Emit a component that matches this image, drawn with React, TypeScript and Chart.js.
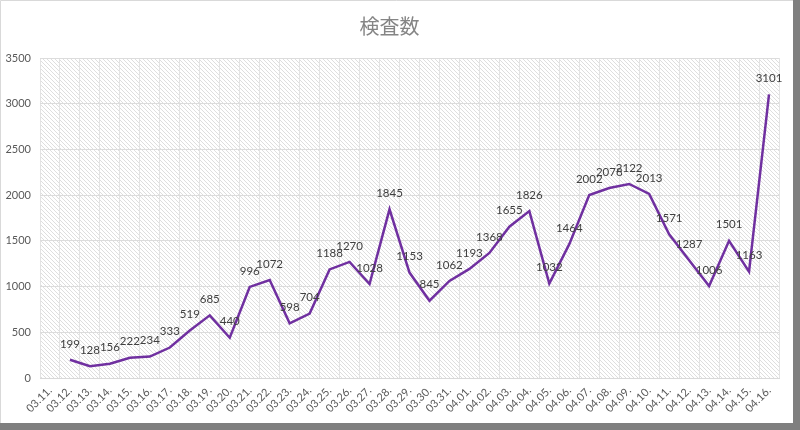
import { useEffect, useRef } from "react";
import { Chart, registerables } from "chart.js";

Chart.register(...registerables);

const title = "検査数";

const categories = [
  "03.11.", "03.12.", "03.13.", "03.14.", "03.15.", "03.16.", "03.17.", "03.18.", "03.19.", "03.20.",
  "03.21.", "03.22.", "03.23.", "03.24.", "03.25.", "03.26.", "03.27.", "03.28.", "03.29.", "03.30.",
  "03.31.", "04.01.", "04.02.", "04.03.", "04.04.", "04.05.", "04.06.", "04.07.", "04.08.", "04.09.",
  "04.10.", "04.11.", "04.12.", "04.13.", "04.14.", "04.15.", "04.16.",
];

const tests: (number | null)[] = [
  null, 199, 128, 156, 222, 234, 333, 519, 685, 440,
  996, 1072, 598, 704, 1188, 1270, 1028, 1845, 1153, 845,
  1062, 1193, 1368, 1655, 1826, 1032, 1464, 2002, 2078, 2122,
  2013, 1571, 1287, 1006, 1501, 1163, 3101,
];

const yMin = 0;
const yMax = 3500;
const yStep = 500;

const NUM_FONT = "Lato, 'Open Sans', sans-serif";

function makeHatch(): CanvasPattern | string {
  const c = document.createElement("canvas");
  c.width = 4;
  c.height = 4;
  const g = c.getContext("2d");
  if (!g) return "#f4f4f4";
  g.fillStyle = "#ffffff";
  g.fillRect(0, 0, 4, 4);
  g.fillStyle = "rgba(200,200,200,0.6)";
  for (let i = 0; i < 4; i++) {
    g.fillRect(i, i, 1, 1);
  }
  const p = g.createPattern(c, "repeat");
  return p || "#f4f4f4";
}

const hatchPlugin = {
  id: "hatchBg",
  beforeDraw(chart: any) {
    const { ctx, chartArea, width, height } = chart;
    ctx.save();
    ctx.fillStyle = "#ffffff";
    ctx.fillRect(0, 0, width, height);
    ctx.strokeStyle = "#d9d9d9";
    ctx.lineWidth = 1;
    ctx.beginPath();
    ctx.moveTo(0.5, height);
    ctx.lineTo(0.5, 0.5);
    ctx.lineTo(width, 0.5);
    ctx.stroke();
    if (chartArea) {
      ctx.fillStyle = makeHatch();
      ctx.fillRect(chartArea.left, chartArea.top, chartArea.right - chartArea.left, chartArea.bottom - chartArea.top);
    }
    ctx.restore();
  },
};

const labelPlugin = {
  id: "pointLabels",
  afterDatasetsDraw(chart: any) {
    const { ctx } = chart;
    const meta = chart.getDatasetMeta(0);
    ctx.save();
    ctx.font = `11.5px ${NUM_FONT}`;
    ctx.fillStyle = "#404040";
    ctx.textAlign = "center";
    ctx.textBaseline = "middle";
    meta.data.forEach((pt: any, i: number) => {
      const v = tests[i];
      if (v === null || v === undefined) return;
      ctx.fillText(String(v), pt.x, pt.y - 16);
    });
    ctx.restore();
  },
};

export default function App() {
  const ref = useRef<HTMLCanvasElement | null>(null);

  useEffect(() => {
    if (!ref.current) return;
    const chart = new Chart(ref.current, {
      type: "line",
      data: {
        labels: categories,
        datasets: [
          {
            data: tests,
            borderColor: "#7030A0",
            borderWidth: 2.5,
            pointRadius: 0,
            pointHoverRadius: 0,
            tension: 0,
            fill: false,
            spanGaps: false,
          },
        ],
      },
      options: {
        animation: false,
        responsive: false,
        maintainAspectRatio: false,
        layout: { padding: { left: 0, right: 14, top: 14, bottom: 0 } },
        plugins: {
          legend: { display: false },
          tooltip: { enabled: false },
          title: {
            display: true,
            text: title,
            color: "#858585",
            font: { family: "'Noto Sans CJK JP', sans-serif", size: 20, weight: "normal" },
            padding: { top: 0, bottom: 20 },
          },
        },
        scales: {
          x: {
            type: "category",
            offset: true,
            grid: { offset: true, color: "#e3e3e3", drawTicks: false },
            border: { color: "#d9d9d9" },
            ticks: {
              color: "#595959",
              font: { family: NUM_FONT, size: 11 },
              maxRotation: 45,
              minRotation: 45,
              autoSkip: false,
              padding: 6,
            },
            afterFit(scale: any) {
              scale.height = 45;
            },
          },
          y: {
            min: yMin,
            max: yMax,
            grid: { color: "#dcdcdc", drawTicks: false },
            border: { display: false },
            ticks: {
              stepSize: yStep,
              color: "#595959",
              font: { family: NUM_FONT, size: 11 },
              padding: 9,
              callback: (v: any) => String(v),
            },
            afterFit(scale: any) {
              scale.width = 40;
            },
          },
        },
      },
      plugins: [hatchPlugin, labelPlugin],
    });
    return () => chart.destroy();
  }, []);

  return (
    <div style={{ position: "absolute", left: 0, top: 0, width: 800, height: 430, background: "#7f7f7f" }}>
      <canvas ref={ref} width={793} height={423} style={{ display: "block", width: 793, height: 423 }} />
    </div>
  );
}
